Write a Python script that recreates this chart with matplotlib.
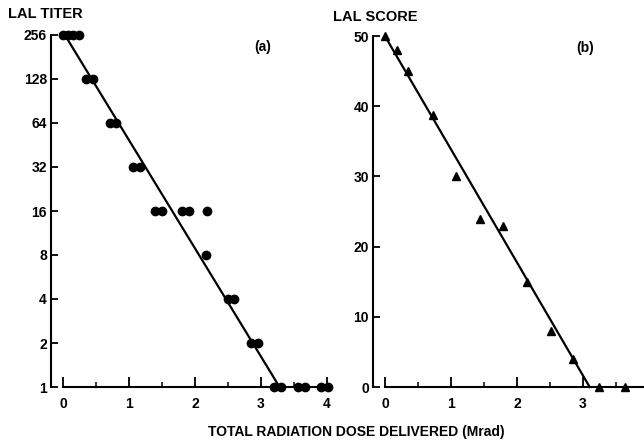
import matplotlib
matplotlib.use('Agg')
import matplotlib.pyplot as plt
from matplotlib.ticker import MultipleLocator, NullLocator

plt.rcParams['font.family'] = 'Liberation Sans'
plt.rcParams['font.weight'] = 'bold'

# (a) LAL titer vs dose (paired replicates)
dose_a = [0.0, 0.08, 0.16, 0.25, 0.35, 0.45, 0.71, 0.80, 1.06, 1.17,
          1.39, 1.50, 1.80, 1.91, 2.18, 2.17, 2.50, 2.59, 2.85, 2.95,
          3.20, 3.30, 3.56, 3.67, 3.91, 4.02]
titer = [256, 256, 256, 256, 128, 128, 64, 64, 32, 32,
         16, 16, 16, 16, 16, 8, 4, 4, 2, 2,
         1, 1, 1, 1, 1, 1]
fit_a_x = [0.03, 3.28]
fit_a_y = [256, 1]
titer_ticks = [1, 2, 4, 8, 16, 32, 64, 128, 256]

# (b) LAL score vs dose
dose_b = [0.0, 0.18, 0.35, 0.73, 1.08, 1.44, 1.79, 2.15, 2.52, 2.85, 3.24, 3.64, 4.0]
score = [50, 48, 45, 38.7, 30, 24, 23, 15, 8, 4, 0, 0, 0]
fit_b_x = [0.0, 3.1]
fit_b_y = [50, 0]
score_ticks = [0, 10, 20, 30, 40, 50]

dose_ticks = [0, 1, 2, 3, 4]

fig = plt.figure(figsize=(6.44, 4.4), dpi=100)
ax1 = fig.add_axes([51/644, 53/440, 286/644, 352/440])
ax2 = fig.add_axes([373/644, 53/440, 286/644, 351/440])

for ax in (ax1, ax2):
    ax.spines['top'].set_visible(False)
    ax.spines['right'].set_visible(False)
    ax.spines['left'].set_linewidth(1.5)
    ax.spines['bottom'].set_linewidth(1.5)
    ax.spines['bottom'].set_bounds(0, 4)
    ax.set_xlim(-0.18, 4.15)
    ax.set_xticks(dose_ticks)
    ax.set_xticklabels([str(t) for t in dose_ticks])
    ax.xaxis.set_minor_locator(MultipleLocator(0.5))
    ax.tick_params(axis='x', which='major', direction='in', length=7, width=1.3,
                   labelsize=10, pad=7)
    ax.tick_params(axis='x', which='minor', direction='in', length=3.5, width=1.1)
    ax.tick_params(axis='y', which='major', direction='in', length=5, width=1.3,
                   labelsize=10, pad=3)

# panel (a)
ax1.set_yscale('log', base=2)
ax1.set_ylim(1, 256)
ax1.set_yticks(titer_ticks)
ax1.set_yticklabels([str(t) for t in titer_ticks])
ax1.yaxis.set_minor_locator(NullLocator())
ax1.spines['left'].set_bounds(1, 256)
ax1.plot(fit_a_x, fit_a_y, color='black', lw=1.6, clip_on=False)
ax1.plot(dose_a, titer, 'o', color='black', ms=6, clip_on=False, zorder=5)
ax1.text(0.74, 0.965, '(a)', transform=ax1.transAxes, fontsize=10,
         ha='center', va='center')

# panel (b)
ax2.set_ylim(0, 50)
ax2.set_yticks(score_ticks)
ax2.set_yticklabels([str(t) for t in score_ticks])
ax2.plot(fit_b_x, fit_b_y, color='black', lw=1.6, clip_on=False)
ax2.plot(dose_b, score, '^', color='black', ms=5.5, clip_on=False, zorder=5)
ax2.text(0.74, 0.965, '(b)', transform=ax2.transAxes, fontsize=10,
         ha='center', va='center')

fig.text(8/644, 1 - 14/440, 'LAL TITER', fontsize=10.5, ha='left', va='center')
fig.text(333/644, 1 - 17/440, 'LAL SCORE', fontsize=10.5, ha='left', va='center')
fig.text(356/644, 1 - 432/440, 'TOTAL RADIATION DOSE DELIVERED (Mrad)',
         fontsize=10, ha='center', va='center')

fig.savefig('out.png', dpi=100)
